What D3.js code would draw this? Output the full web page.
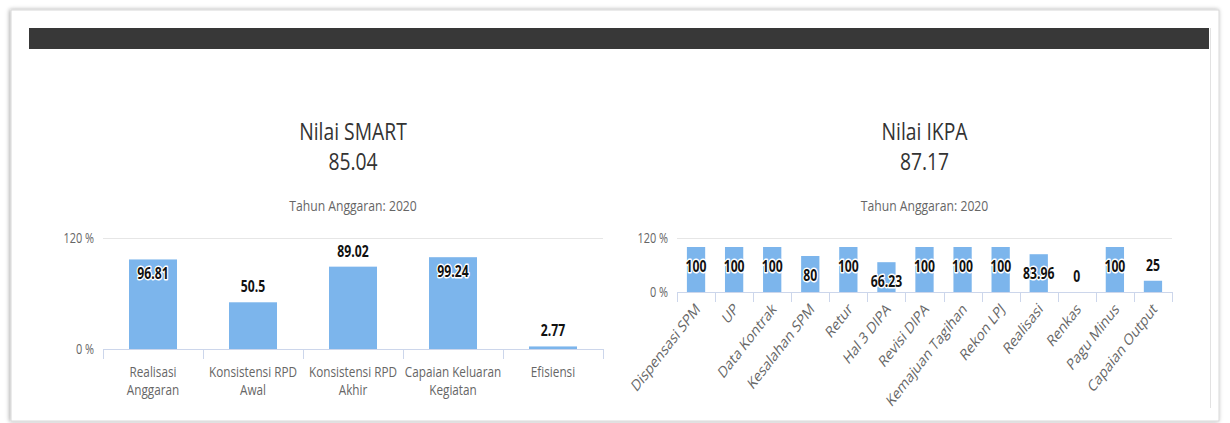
<!DOCTYPE html>
<html lang='en'>
	<head>
		<meta charset='utf-8'>
		<title>Nilai SMART / IKPA</title>
		<script type='text/javascript' src='https://cdn.jsdelivr.net/npm/d3@7'></script>
		<style>
			body { margin: 0; background: #fff; }
			text { font-family: 'Open Sans', 'DejaVu Sans', sans-serif; }
		</style>
	</head>
	<body>
		<script type='text/javascript'>
		// ---- data ----
		var smartTitle = 'Nilai SMART', smartScore = '85.04';
		var smartCategories = ['Realisasi Anggaran', 'Konsistensi RPD Awal', 'Konsistensi RPD Akhir', 'Capaian Keluaran Kegiatan', 'Efisiensi'];
		var smartValues = [96.81, 50.5, 89.02, 99.24, 2.77];

		var ikpaTitle = 'Nilai IKPA', ikpaScore = '87.17';
		var ikpaCategories = ['Dispensasi SPM', 'UP', 'Data Kontrak', 'Kesalahan SPM', 'Retur', 'Hal 3 DIPA', 'Revisi DIPA',
			'Kemajuan Tagihan', 'Rekon LPJ', 'Realisasi', 'Renkas', 'Pagu Minus', 'Capaian Output'];
		var ikpaValues = [100, 100, 100, 80, 100, 66.23, 100, 100, 100, 83.96, 0, 100, 25];

		var subtitle = 'Tahun Anggaran: 2020';
		var yTicks = [0, 120];

		var width = 1230, height = 423;
		var svg = d3.select('body').append('svg').attr('width', width).attr('height', height);

		// card + shadow
		var defs = svg.append('defs');
		var f = defs.append('filter').attr('id', 'shadow').attr('x', '-5%').attr('y', '-5%').attr('width', '110%').attr('height', '110%');
		f.append('feDropShadow').attr('dx', -1).attr('dy', 0).attr('stdDeviation', 2).attr('flood-color', '#000').attr('flood-opacity', 0.35);
		svg.append('rect').attr('x', 11).attr('y', 10).attr('width', 1208).attr('height', 411)
			.attr('fill', '#fff').attr('stroke', '#d8d8d8').attr('filter', 'url(#shadow)');
		svg.append('rect').attr('x', 29).attr('y', 28).attr('width', 1180).attr('height', 21).attr('fill', '#383838');
		svg.append('line').attr('x1', 1210.5).attr('x2', 1210.5).attr('y1', 28).attr('y2', 408).attr('stroke', '#e2e2e2');

		var plotArea = svg.append('g');
		// labels running past the card bottom get cut off
		defs.append('clipPath').attr('id', 'cardclip').append('rect').attr('x', 11).attr('y', 10).attr('width', 1208).attr('height', 410);
		plotArea.attr('clip-path', 'url(#cardclip)');

		// squeezed text helper (the source picture is horizontally compressed)
		function txt(g, x, y, s, size, opts) {
			opts = opts || {};
			var sx = opts.sx || 0.84;
			var t = g.append('text')
				.attr('transform', 'translate(' + x + ',' + y + ') scale(' + sx + ',1)' + (opts.rotate ? ' rotate(' + opts.rotate + ')' : ''))
				.attr('text-anchor', opts.anchor || 'middle')
				.attr('font-size', size)
				.attr('fill', opts.fill || '#333')
				.attr('font-weight', opts.weight || 'normal')
				.text(s);
			if (opts.halo) t.attr('stroke', '#fff').attr('stroke-width', 3).attr('stroke-linejoin', 'round').attr('paint-order', 'stroke');
			return t;
		}

		function wrap(s, maxChars) {
			if (s.length <= maxChars) return [s];
			var words = s.split(' '), lines = [''];
			words.forEach(function(w) {
				var cur = lines[lines.length - 1];
				if (cur && (cur + ' ' + w).length > maxChars) lines.push(w);
				else lines[lines.length - 1] = cur ? cur + ' ' + w : w;
			});
			return lines;
		}

		function drawChart(cfg) {
			var g = plotArea.append('g');
			var cx = (cfg.x0 + cfg.x1) / 2;
			txt(g, cx, 140, cfg.title, 23, {fill: '#333'});
			txt(g, cx, 170, cfg.score, 23, {fill: '#333'});
			txt(g, cx, 211, subtitle, 14.5, {fill: '#666'});

			var x = d3.scaleBand().domain(cfg.categories).range([cfg.x0, cfg.x1]).paddingInner(0.52).paddingOuter(0.26);
			var y = d3.scaleLinear().domain([0, 120]).range([cfg.yBottom, cfg.yTop]);
			var step = x.step();

			// grid line at 120
			g.append('line').attr('x1', cfg.x0).attr('x2', cfg.x1)
				.attr('y1', y(120) + 0.5).attr('y2', y(120) + 0.5).attr('stroke', '#e6e6e6');

			// y labels
			yTicks.forEach(function(v) {
				txt(g, cfg.x0 - 9, y(v) + 5, v + ' %', 14, {anchor: 'end', fill: '#666', sx: 0.78});
			});

			// bars
			g.selectAll('rect.bar').data(cfg.values).enter().append('rect')
				.attr('class', 'bar')
				.attr('x', function(d, i) { return x(cfg.categories[i]); })
				.attr('width', x.bandwidth())
				.attr('y', function(d) { return y(d); })
				.attr('height', function(d) { return y(0) - y(d); })
				.attr('fill', '#7cb5ec');

			// x axis line + ticks between categories
			g.append('line').attr('x1', cfg.x0).attr('x2', cfg.x1)
				.attr('y1', y(0) + 0.5).attr('y2', y(0) + 0.5).attr('stroke', '#ccd6eb');
			d3.range(cfg.categories.length + 1).forEach(function(i) {
				var tx = Math.round(cfg.x0 + i * step) + 0.5;
				g.append('line').attr('x1', tx).attr('x2', tx).attr('y1', y(0)).attr('y2', y(0) + 10).attr('stroke', '#ccd6eb');
			});

			// data labels: above the bar if they fit, else inside
			cfg.values.forEach(function(v, i) {
				var bx = x(cfg.categories[i]) + x.bandwidth() / 2;
				var top = y(v);
				var ly = (top - 25 >= cfg.yTop) ? top - 10 : top + cfg.inside;
				txt(g, bx, ly, String(v), 16.5, {weight: 'bold', fill: '#111', halo: true, sx: 0.74});
			});

			// category labels
			cfg.categories.forEach(function(c, i) {
				var bx = x(c) + x.bandwidth() / 2;
				if (cfg.rotate) {
					txt(g, bx + 5, y(0) + 18, c, 16, {anchor: 'end', fill: '#666', rotate: -45, sx: 0.78});
				} else {
					wrap(c, 16).forEach(function(line, k) {
						txt(g, bx, y(0) + 28 + k * 18, line, 14, {fill: '#666'});
					});
				}
			});
		}

		drawChart({title: smartTitle, score: smartScore, categories: smartCategories, values: smartValues,
			x0: 103, x1: 603, yTop: 238, yBottom: 349, rotate: false, inside: 20});
		drawChart({title: ikpaTitle, score: ikpaScore, categories: ikpaCategories, values: ikpaValues,
			x0: 677, x1: 1172, yTop: 238, yBottom: 292, rotate: true, inside: 25});
		</script>
	</body>
</html>
